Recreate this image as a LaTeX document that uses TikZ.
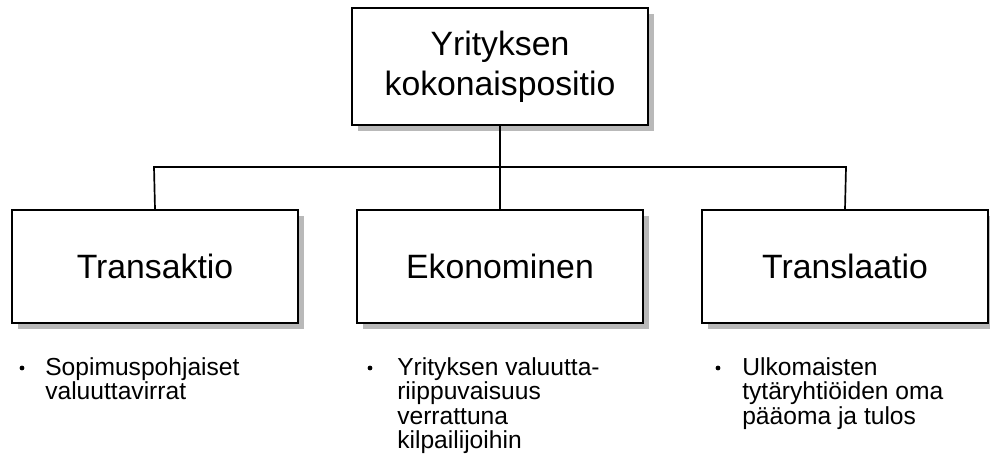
\documentclass[tikz,border=0pt]{standalone}
\usepackage{fontspec}
\setmainfont{Liberation Sans}
\usetikzlibrary{shadows}

\begin{document}
\begin{tikzpicture}[x=0.025cm, y=-0.025cm,
  box/.style={rectangle, draw, line width=1.2pt, fill=white,
    minimum width=7.15cm, minimum height=2.825cm,
    font=\fontsize{24}{28.5}\selectfont,
    drop shadow={shadow xshift=0.15cm, shadow yshift=-0.15cm, fill=gray!55, opacity=1}},
  dot/.style={circle, fill, inner sep=0pt, minimum size=0.12cm},
  note/.style={anchor=north west, align=left, inner sep=0pt,
    font=\fontsize{17.5}{17.5}\selectfont},
  link/.style={line width=1.2pt}]
\useasboundingbox (0,0) rectangle (990,474);

% Main box and the three exposure types
\node[box, minimum width=7.4cm, minimum height=2.925cm, align=center] (total) at (500,66.5) {Yrityksen\\kokonaispositio};
\node[box] (transaction) at (155,266.5) {Transaktio};
\node[box] (economic) at (500,266.5) {Ekonominen};
\node[box] (translation) at (845,266.5) {Translaatio};

% Connectors
\coordinate (busL) at (154,167);
\coordinate (busR) at (846,167);
\draw[link] (total.south) -- (economic.north);
\draw[link] (transaction.north) -- (busL) -- (busR) -- (translation.north);

% Descriptions
\node[dot] (b1) at (22,368) {};
\node[note] (t1) at (45,357) {Sopimuspohjaiset\\valuuttavirrat};
\node[dot] (b2) at (370,368) {};
\node[note] (t2) at (397,357) {Yrityksen valuutta-\\riippuvaisuus\\verrattuna\\kilpailijoihin};
\node[dot] (b3) at (718,368) {};
\node[note] (t3) at (742,357) {Ulkomaisten\\tytäryhtiöiden oma\\pääoma ja tulos};
\end{tikzpicture}
\end{document}
